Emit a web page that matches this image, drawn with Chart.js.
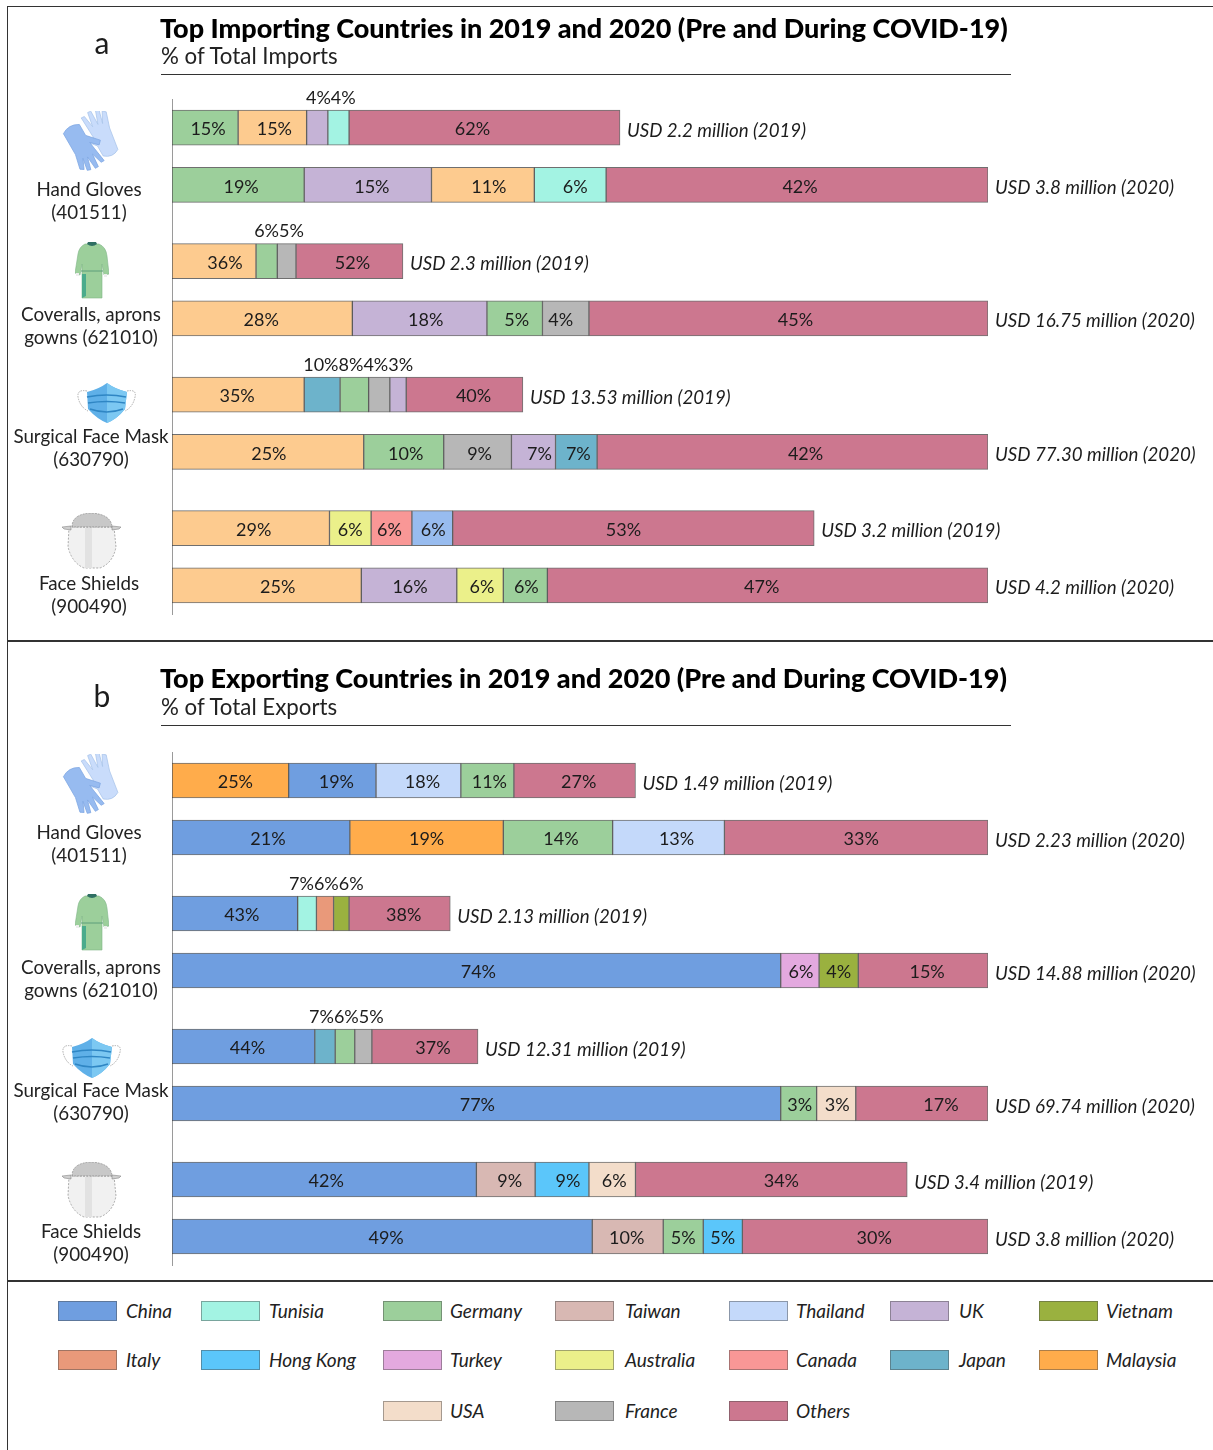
<!DOCTYPE html>
<html>
<head>
<meta charset="utf-8">
<title>Top Importing and Exporting Countries</title>
<script src="https://cdn.jsdelivr.net/npm/chart.js@4"></script>
<style>
    html, body { margin: 0; padding: 0; background: #fff; }
    #page { position: relative; width: 1213px; height: 1450px; overflow: hidden; font-family: Lato, sans-serif; color: #1c1c1c; }
    #page canvas { position: absolute; left: 0; }
    .rule { position: absolute; background: #333; }
    .title { position: absolute; left: 160px; font-size: 27px; font-weight: 900; color: #000; white-space: nowrap; line-height: 32px; }
    .subtitle { position: absolute; left: 161px; font-size: 22.3px; white-space: nowrap; line-height: 28px; color: #222; }
    .panel-letter { position: absolute; left: 90px; width: 24px; text-align: center; font-size: 30px; line-height: 34px; }
    .product { position: absolute; width: 170px; text-align: center; font-size: 18.8px; line-height: 23px; white-space: nowrap; color: #222; }
    .icon { position: absolute; }
    .swatch { position: absolute; width: 59px; height: 20px; box-sizing: border-box; border: 1px solid rgba(70, 70, 70, 0.45); }
    .legend-text { position: absolute; font-size: 19px; font-style: italic; line-height: 22px; white-space: nowrap; color: #222; }
</style>
</head>
<body>
<svg width="0" height="0" style="position:absolute">
    <symbol id="gloves" viewBox="0 0 60 62">
        <g transform="translate(42,27) rotate(-24) scale(1.15)" fill="#c9dcfb" stroke="#a9c4ea" stroke-width="0.6">
            <path d="M-9,-10 L-11,-24 L-8,-24 L-5,-13 L-4,-26 L-1,-26 L0,-13 L3,-25 L6,-24 L4,-12 L8,-22 L11,-20 L8,-6 L7,14 Q0,19 -7,14 L-8,4 L-18,-6 L-15,-9 L-8,-3 Z"/>
        </g>
        <g transform="translate(18,33) rotate(150) scale(1.15)" fill="#97bbf0" stroke="#7ea6e2" stroke-width="0.6">
            <path d="M-9,-10 L-11,-23 L-8,-23 L-5,-13 L-4,-25 L-1,-25 L0,-13 L3,-24 L6,-23 L4,-12 L8,-21 L11,-19 L8,-6 L8,15 Q0,20 -8,15 L-8,4 L-17,-6 L-14,-9 L-8,-3 Z"/>
        </g>
    </symbol>
    <symbol id="gown" viewBox="0 0 34 57">
        <path d="M10,2 L24,2 Q31,5 32,14 L34,32 L29,33 L27,22 L27,56 L7,56 L7,22 L5,33 L0,31 L3,12 Q4,5 10,2 Z" fill="#9ccf9b" stroke="#7fb588" stroke-width="0.6"/>
        <path d="M7,32 L11,32 L11,54 L7,56 Z" fill="#4bab8c"/>
        <path d="M6,29 L28,29" stroke="#5d9e7a" stroke-width="1"/>
        <path d="M12,2 Q17,6 22,2 L21,0 L13,0 Z" fill="#2f6f63"/>
        <rect x="1" y="31" width="3" height="3" fill="#eee"/>
        <rect x="29" y="32" width="3" height="3" fill="#eee"/>
    </symbol>
    <symbol id="mask" viewBox="0 0 63 40">
        <path d="M12,8 Q2,6 3,14 Q5,24 13,28" fill="none" stroke="#999" stroke-width="0.8" stroke-dasharray="1.5 1"/>
        <path d="M52,8 Q62,6 60,14 Q58,24 50,28" fill="none" stroke="#999" stroke-width="0.8" stroke-dasharray="1.5 1"/>
        <path d="M12,9 Q24,6 32,0 Q40,6 52,9 L50,26 Q42,36 32,40 Q22,36 13,26 Z" fill="#5fb0e8"/>
        <path d="M32,0 Q40,6 52,9 L50,26 Q42,36 32,40 Z" fill="#7cc8f2"/>
        <path d="M12,14 Q32,10 51,14 M13,20 Q32,17 50,20 M15,26 Q32,32 48,26" fill="none" stroke="#2f86c4" stroke-width="1.6"/>
    </symbol>
    <symbol id="shield" viewBox="0 0 61 56">
        <path d="M8,14 L53,14 L55,34 Q52,50 39,55 L23,55 Q11,50 7,34 Z" fill="#f1f1f1" stroke="#777" stroke-width="0.6" stroke-dasharray="2 1.5"/>
        <path d="M24,15 L31,15 L31,55 L24,55 Z" fill="#e2e2e2"/>
        <path d="M11,14 Q11,1 30,0 Q50,1 51,14 Z" fill="#c8c8c8" stroke="#777" stroke-width="0.6" stroke-dasharray="2 1"/>
        <path d="M1,14 L10,13 L10,17 L3,16 Z M51,13 L60,14 L58,16 L51,17 Z" fill="#cfcfcf" stroke="#777" stroke-width="0.5"/>
    </symbol>
</svg>

<div id="page">
    <canvas id="importChart" width="1213" height="640" style="top:0"></canvas>
    <canvas id="exportChart" width="1213" height="640" style="top:640px"></canvas>

    <div class="rule" style="left:7px;top:6px;width:1206px;height:1px"></div>
    <div class="rule" style="left:7px;top:6px;width:1px;height:1444px"></div>
    <div class="rule" style="left:7px;top:640px;width:1206px;height:1.5px"></div>
    <div class="rule" style="left:7px;top:1280px;width:1206px;height:1.5px"></div>
    <div class="rule" style="left:161px;top:74px;width:850px;height:1px"></div>
    <div class="rule" style="left:161px;top:725px;width:850px;height:1px"></div>

    <div class="panel-letter" style="top:25px">a</div>
    <div class="title" style="top:12px">Top Importing Countries in 2019 and 2020 (Pre and During COVID-19)</div>
    <div class="subtitle" style="top:42px">% of Total Imports</div>

    <div class="panel-letter" style="top:678px">b</div>
    <div class="title" style="top:662px">Top Exporting Countries in 2019 and 2020 (Pre and During COVID-19)</div>
    <div class="subtitle" style="top:693px">% of Total Exports</div>

    <svg class="icon" style="left:62px;top:111px" width="60" height="62"><use href="#gloves"/></svg>
    <svg class="icon" style="left:75px;top:242px" width="34" height="57"><use href="#gown"/></svg>
    <svg class="icon" style="left:75px;top:383px" width="63" height="40"><use href="#mask"/></svg>
    <svg class="icon" style="left:61px;top:513px" width="61" height="56"><use href="#shield"/></svg>

    <svg class="icon" style="left:62px;top:754px" width="60" height="62"><use href="#gloves"/></svg>
    <svg class="icon" style="left:75px;top:894px" width="34" height="57"><use href="#gown"/></svg>
    <svg class="icon" style="left:60px;top:1038px" width="63" height="40"><use href="#mask"/></svg>
    <svg class="icon" style="left:61px;top:1162px" width="61" height="56"><use href="#shield"/></svg>

    <div id="productLabels"></div>
    <div id="legend"></div>
</div>

<script>
// Blank entries are spacer rows, they give the gaps between product groups
const rowCategories = [
    '', 'Hand Gloves 2019', '', '', 'Hand Gloves 2020', '', '', '',
    'Coveralls 2019', '', '', 'Coveralls 2020', '', '', '',
    'Surgical Face Mask 2019', '', '', 'Surgical Face Mask 2020', '', '', '',
    'Face Shields 2019', '', '', 'Face Shields 2020', ''
];

// Panel a, imports. Lengths are the bar lengths, longest bar = 100
const importCountries = [
    ['Germany', 'USA', 'UK', 'Tunisia', 'Others'],
    ['Germany', 'UK', 'USA', 'Tunisia', 'Others'],
    ['USA', 'Germany', 'France', 'Others'],
    ['USA', 'UK', 'Germany', 'France', 'Others'],
    ['USA', 'Japan', 'Germany', 'France', 'UK', 'Others'],
    ['USA', 'Germany', 'France', 'UK', 'Japan', 'Others'],
    ['USA', 'Australia', 'Canada', 'China', 'Others'],
    ['USA', 'UK', 'Australia', 'Germany', 'Others']
];
const importShares = [
    [15, 15, 4, 4, 62],
    [19, 15, 11, 6, 42],
    [36, 6, 5, 52],
    [28, 18, 5, 4, 45],
    [35, 10, 8, 4, 3, 40],
    [25, 10, 9, 7, 7, 42],
    [29, 6, 6, 6, 53],
    [25, 16, 6, 6, 47]
];
const importLengths = [
    [8.1, 8.4, 2.6, 2.6, 33.2],
    [16.2, 15.6, 12.6, 8.8, 46.8],
    [10.3, 2.6, 2.3, 13.1],
    [22.1, 16.5, 6.8, 5.7, 48.9],
    [16.2, 4.4, 3.5, 2.6, 2.0, 14.3],
    [23.5, 9.8, 8.3, 5.4, 5.1, 47.9],
    [19.3, 5.1, 5.0, 5.0, 44.3],
    [23.2, 11.7, 5.7, 5.4, 54.0]
];
const importTotals = [
    'USD 2.2 million (2019)', 'USD 3.8 million (2020)',
    'USD 2.3 million (2019)', 'USD 16.75 million (2020)',
    'USD 13.53 million (2019)', 'USD 77.30 million (2020)',
    'USD 3.2 million (2019)', 'USD 4.2 million (2020)'
];

// Panel b, exports
const exportCountries = [
    ['Malaysia', 'China', 'Thailand', 'Germany', 'Others'],
    ['China', 'Malaysia', 'Germany', 'Thailand', 'Others'],
    ['China', 'Tunisia', 'Italy', 'Vietnam', 'Others'],
    ['China', 'Turkey', 'Vietnam', 'Others'],
    ['China', 'Japan', 'Germany', 'France', 'Others'],
    ['China', 'Germany', 'USA', 'Others'],
    ['China', 'Taiwan', 'Hong Kong', 'USA', 'Others'],
    ['China', 'Taiwan', 'Germany', 'Hong Kong', 'Others']
];
const exportShares = [
    [25, 19, 18, 11, 27],
    [21, 19, 14, 13, 33],
    [43, 7, 6, 6, 38],
    [74, 6, 4, 15],
    [44, 7, 6, 5, 37],
    [77, 3, 3, 17],
    [42, 9, 9, 6, 34],
    [49, 10, 5, 5, 30]
];
const exportLengths = [
    [14.3, 10.7, 10.4, 6.5, 14.9],
    [21.8, 18.8, 13.4, 13.7, 32.3],
    [15.4, 2.3, 2.1, 1.9, 12.4],
    [74.6, 4.7, 4.8, 15.9],
    [17.5, 2.5, 2.4, 2.1, 13.0],
    [74.6, 4.4, 4.8, 16.2],
    [37.3, 7.2, 6.6, 5.7, 33.3],
    [51.5, 8.7, 4.9, 4.8, 30.1]
];
const exportTotals = [
    'USD 1.49 million (2019)', 'USD 2.23 million (2020)',
    'USD 2.13 million (2019)', 'USD 14.88 million (2020)',
    'USD 12.31 million (2019)', 'USD 69.74 million (2020)',
    'USD 3.4 million (2019)', 'USD 3.8 million (2020)'
];

const countryColors = {
    China: '#6f9ee0', Tunisia: '#a3f3e3', Germany: '#9ccf9b', Taiwan: '#d8b8b3', Thailand: '#c4d9fa',
    UK: '#c5b3d6', Vietnam: '#9ab13f', Italy: '#e9997a', 'Hong Kong': '#5bc6fa', Turkey: '#e3a9df',
    Australia: '#ebf08a', Canada: '#f99796', Japan: '#6db3cb', Malaysia: '#ffac4b', USA: '#f3ddca',
    France: '#b7b7b7', Others: '#cc778f'
};
// The import panel draws these two in other tints than the legend
const importTints = { USA: '#fdcb8f', China: '#98bcef' };

// The original does not centre its labels exactly, pixel shifts per segment
const importLabelShift = [
    [3, 2, 0, 0, -12],
    [3, 4, 6, 5, 3],
    [11, 0, 0, 3],
    [-1, 6, 2, -5, 7],
    [-1, 0, 0, 0, 0, 9],
    [1, 2, 2, 6, 2, 13],
    [3, 0, -2, 1, -10],
    [11, 1, 2, 1, -6]
];
const exportLabelShift = [
    [5, 4, 4, 2, 4],
    [7, 0, 3, 8, 5],
    [7, 0, 0, 0, 4],
    [2, 1, 0, 4],
    [4, 0, 0, 0, 8],
    [1, 1, 1, 19],
    [2, 4, 6, 2, 10],
    [4, -1, 0, 0, 9]
];

const legendRows = [
    ['China', 'Tunisia', 'Germany', 'Taiwan', 'Thailand', 'UK', 'Vietnam'],
    ['Italy', 'Hong Kong', 'Turkey', 'Australia', 'Canada', 'Japan', 'Malaysia'],
    [null, null, 'USA', 'France', 'Others']
];
const legendSwatchX = [58, 201, 383, 555, 729, 890, 1039];
const legendTextX = [126, 269, 450, 625, 796, 959, 1106];
const legendRowY = [1301, 1350, 1401];

const productLabels = [
    ['Hand Gloves', '(401511)', 4, 177],
    ['Coveralls, aprons', 'gowns (621010)', 6, 302],
    ['Surgical Face Mask', '(630790)', 6, 424],
    ['Face Shields', '(900490)', 4, 571],
    ['Hand Gloves', '(401511)', 4, 820],
    ['Coveralls, aprons', 'gowns (621010)', 6, 955],
    ['Surgical Face Mask', '(630790)', 6, 1078],
    ['Face Shields', '(900490)', 6, 1219]
];

// Labels inside the segments, narrow ones go in a run above the bar, and the total after the bar
const segmentLabels = {
    id: 'segmentLabels',
    afterDatasetsDraw(chart, args, opts) {
        const { ctx } = chart;
        const xScale = chart.scales.x;
        const yScale = chart.scales.y;
        const slots = rowCategories.map((c, i) => (c ? i : -1)).filter(i => i >= 0);

        ctx.save();
        ctx.fillStyle = '#1c1c1c';
        ctx.textBaseline = 'middle';
        slots.forEach((slot, r) => {
            const y = yScale.getPixelForValue(slot);
            let run = 0;
            const narrow = [];
            ctx.font = '18px Lato';
            ctx.textAlign = 'center';
            opts.lengths[r].forEach((len, k) => {
                const x0 = xScale.getPixelForValue(run);
                const x1 = xScale.getPixelForValue(run + len);
                const text = opts.shares[r][k] + '%';
                if (x1 - x0 < ctx.measureText(text).width + 6) {
                    narrow.push({ text, x0, x1 });
                } else {
                    ctx.fillText(text, (x0 + x1) / 2 + opts.shifts[r][k], y + 2);
                }
                run += len;
            });

            if (narrow.length) {
                const widths = narrow.map(n => ctx.measureText(n.text).width);
                const total = widths.reduce((a, b) => a + b, 0);
                let cursor = (narrow[0].x0 + narrow[narrow.length - 1].x1) / 2 - total / 2 + 3;
                ctx.textAlign = 'left';
                narrow.forEach((n, k) => {
                    ctx.fillText(n.text, cursor, y - 29.5);
                    cursor += widths[k];
                });
            }

            ctx.font = 'italic 18.7px Lato';
            ctx.textAlign = 'left';
            ctx.fillText(opts.totals[r], xScale.getPixelForValue(run) + 7, y + 3);
        });
        ctx.restore();
    }
};

// One dataset per country, each segment is a floating bar on its row
function buildDatasets(countries, lengths, tints) {
    const slots = rowCategories.map((c, i) => (c ? i : -1)).filter(i => i >= 0);
    const names = [...new Set(countries.flat())];
    return names.map(name => {
        const data = rowCategories.map(() => null);
        countries.forEach((row, r) => {
            const k = row.indexOf(name);
            if (k >= 0) {
                const start = lengths[r].slice(0, k).reduce((a, b) => a + b, 0);
                data[slots[r]] = [start, start + lengths[r][k]];
            }
        });
        return {
            label: name,
            data,
            grouped: false,
            backgroundColor: tints[name] || countryColors[name],
            borderColor: 'rgba(50, 50, 50, 0.7)',
            borderWidth: 1,
            borderSkipped: false,
            barThickness: 35
        };
    });
}

function drawPanel(canvasId, countries, shares, lengths, totals, shifts, tints, padTop, padBottom) {
    new Chart(document.getElementById(canvasId), {
        type: 'bar',
        data: { labels: rowCategories, datasets: buildDatasets(countries, lengths, tints) },
        plugins: [segmentLabels],
        options: {
            indexAxis: 'y',
            responsive: false,
            animation: false,
            layout: { padding: { left: 172, right: 225, top: padTop, bottom: padBottom } },
            scales: {
                x: { display: false, min: 0, max: 100 },
                y: {
                    grid: { display: false, drawTicks: false },
                    border: { display: true, color: '#9a9a9a', width: 1 },
                    ticks: { display: false }
                }
            },
            plugins: {
                legend: { display: false },
                tooltip: { enabled: false },
                segmentLabels: { shares, lengths, totals, shifts }
            }
        }
    });
}

function buildSideText() {
    const holder = document.getElementById('productLabels');
    productLabels.forEach(p => {
        const el = document.createElement('div');
        el.className = 'product';
        el.style.left = p[2] + 'px';
        el.style.top = p[3] + 'px';
        el.innerHTML = p[0] + '<br>' + p[1];
        holder.appendChild(el);
    });

    const legend = document.getElementById('legend');
    legendRows.forEach((row, r) => {
        row.forEach((name, c) => {
            if (!name) return;
            const swatch = document.createElement('div');
            swatch.className = 'swatch';
            swatch.style.left = legendSwatchX[c] + 'px';
            swatch.style.top = legendRowY[r] + 'px';
            swatch.style.background = countryColors[name];
            legend.appendChild(swatch);

            const text = document.createElement('div');
            text.className = 'legend-text';
            text.style.left = legendTextX[c] + 'px';
            text.style.top = (legendRowY[r] - 1) + 'px';
            text.textContent = name;
            legend.appendChild(text);
        });
    });
}

drawPanel('importChart', importCountries, importShares, importLengths, importTotals, importLabelShift, importTints, 99, 26);
drawPanel('exportChart', exportCountries, exportShares, exportLengths, exportTotals, exportLabelShift, {}, 112, 15);
buildSideText();
</script>
</body>
</html>
